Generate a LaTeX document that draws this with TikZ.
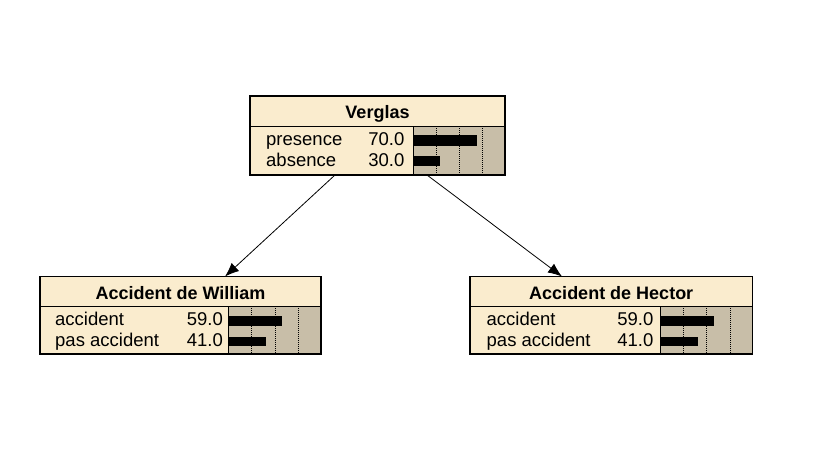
\documentclass[tikz,border=0pt]{standalone}
\usepackage{fontspec}
\setmainfont{Liberation Sans}
\usetikzlibrary{arrows.meta,calc}
\definecolor{nodebg}{RGB}{250,236,206}
\definecolor{barbg}{RGB}{200,190,168}
\begin{document}
\begin{tikzpicture}[x=1pt,y=-1pt,
  box/.style={draw=none, fill=nodebg, rectangle, inner sep=0pt, outer sep=0pt, anchor=north west},
  frame/.style={draw=black, line width=1.2pt},
  sepline/.style={draw=black, line width=1pt},
  ttl/.style={font=\fontsize{18}{20}\selectfont\bfseries, anchor=base, inner sep=0pt},
  lbl/.style={font=\fontsize{18.5}{20}\selectfont, anchor=base west, inner sep=0pt},
  val/.style={font=\fontsize{18.5}{20}\selectfont, anchor=base east, inner sep=0pt},
  barfill/.style={fill=black},
  gridline/.style={densely dotted, line width=1pt},
  link/.style={-{Latex[length=14pt,width=11pt]}, line width=0.8pt}]
\useasboundingbox[fill=white] (0,0) rectangle (817,475);

% ---------- Verglas ----------
\node[box, minimum width=255pt, minimum height=79pt] (verglas) at (250,96) {};
\fill[barbg] (413,126) rectangle (505,175);
\foreach \gx in {436,459,482} \draw[gridline] (\gx,126) -- (\gx,175);
\fill[barfill] (413,135) rectangle (477,145.5);
\fill[barfill] (413,156) rectangle (440,165.5);
\draw[sepline] (250,126) -- (505,126);
\draw[sepline] (413,126) -- (413,175);
\draw[frame] (verglas.north west) rectangle (verglas.south east);
\node[ttl] (verglas-title) at (377.5,118.3) {Verglas};
\node[lbl] (verglas-l1) at (266,145.5) {presence};
\node[val] (verglas-v1) at (404.5,145.5) {70.0};
\node[lbl] (verglas-l2) at (266,166) {absence};
\node[val] (verglas-v2) at (404.5,166) {30.0};

% ---------- Accident de William ----------
\node[box, minimum width=281pt, minimum height=77.5pt] (william) at (40,276.5) {};
\fill[barbg] (228.5,306) rectangle (321,354);
\foreach \gx in {251.7,275,298.3} \draw[gridline] (\gx,306) -- (\gx,354);
\fill[barfill] (228.5,315.5) rectangle (282,325.5);
\fill[barfill] (228.5,336.5) rectangle (265.5,346);
\draw[sepline] (40,306) -- (321,306);
\draw[sepline] (228.5,306) -- (228.5,354);
\draw[frame] (william.north west) rectangle (william.south east);
\node[ttl] (william-title) at (180.5,299.3) {Accident de William};
\node[lbl] (william-l1) at (55,325.5) {accident};
\node[val] (william-v1) at (223,325.5) {59.0};
\node[lbl] (william-l2) at (55,346) {pas accident};
\node[val] (william-v2) at (223,346) {41.0};

% ---------- Accident de Hector ----------
\node[box, minimum width=282.5pt, minimum height=77.5pt] (hector) at (470,276.5) {};
\fill[barbg] (660,306) rectangle (752.5,354);
\foreach \gx in {683.3,706.7,730} \draw[gridline] (\gx,306) -- (\gx,354);
\fill[barfill] (660,315.5) rectangle (714,325.5);
\fill[barfill] (660,336.5) rectangle (697.5,346);
\draw[sepline] (470,306) -- (752.5,306);
\draw[sepline] (660,306) -- (660,354);
\draw[frame] (hector.north west) rectangle (hector.south east);
\node[ttl] (hector-title) at (611.25,299.3) {Accident de Hector};
\node[lbl] (hector-l1) at (486.5,325.5) {accident};
\node[val] (hector-v1) at (653.5,325.5) {59.0};
\node[lbl] (hector-l2) at (486.5,346) {pas accident};
\node[val] (hector-v2) at (653.5,346) {41.0};

% ---------- links ----------
\draw[link] ($(verglas.south west)+(85,0)$) -- ($(william.north west)+(185,0)$);
\draw[link] ($(verglas.south west)+(177,0)$) -- ($(hector.north west)+(92,0)$);
\end{tikzpicture}
\end{document}
